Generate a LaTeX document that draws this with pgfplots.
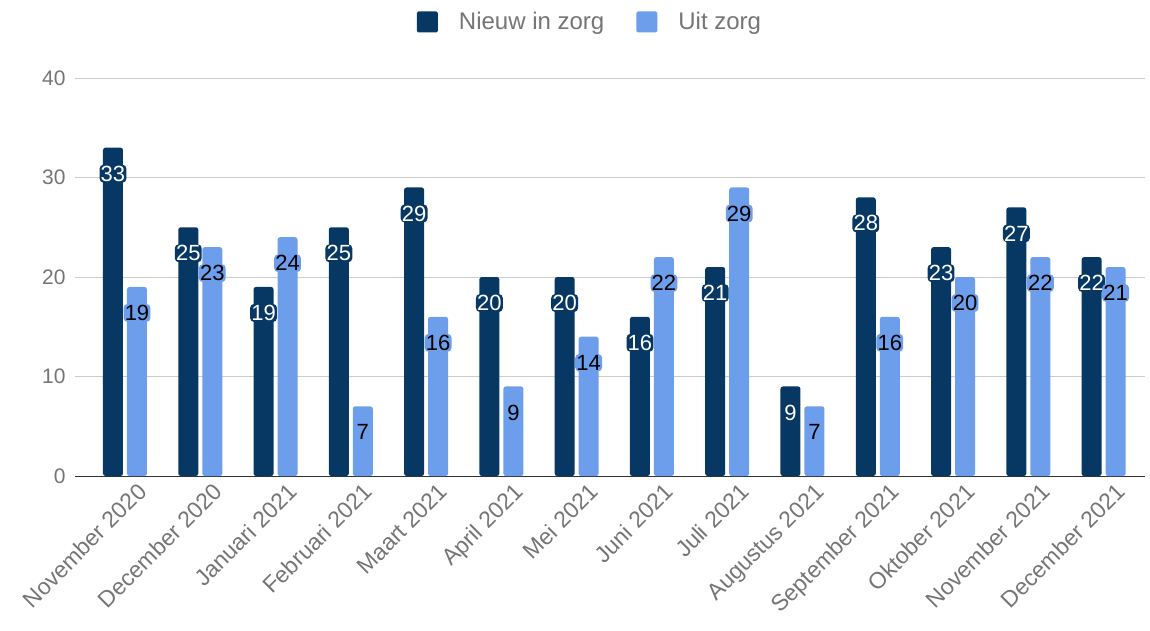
\documentclass[border=0pt]{standalone}
\usepackage{pgfplots}
\pgfplotsset{compat=1.18}
\usepackage{fontspec}
\setmainfont{Liberation Sans}
\definecolor{navy}{HTML}{073763}
\definecolor{lblue}{HTML}{6D9EEB}
\definecolor{txtgray}{HTML}{757575}
\definecolor{gridgray}{HTML}{CCCCCC}
\begin{document}
\begin{tikzpicture}[x=1pt,y=1pt]
\useasboundingbox (0,0) rectangle (1150,630);
\begin{axis}[
  at={(75pt,154pt)}, anchor=south west,
  scale only axis, width=1070pt, height=398pt,
  ymin=0, ymax=40, ytick={0,10,20,30,40},
  xmin=-0.664, xmax=13.55,
  xtick={0,...,13},
  xticklabels={November 2020,December 2020,Januari 2021,Februari 2021,Maart 2021,April 2021,Mei 2021,Juni 2021,Juli 2021,Augustus 2021,September 2021,Oktober 2021,November 2021,December 2021},
  x tick label style={rotate=45, anchor=north east, font=\fontsize{23}{25}\selectfont, text=txtgray, inner sep=0pt, yshift=-12pt, xshift=4pt},
  y tick label style={font=\fontsize{21}{24}\selectfont, text=txtgray, xshift=-6pt},
  /pgf/number format/assume math mode=true,
  axis x line*=bottom, axis y line*=left,
  y axis line style={draw=none},
  x axis line style={draw=black!80, line width=1pt},
  major tick length=0pt,
  ymajorgrids, grid style={gridgray, line width=0.9pt},
  ybar, bar width=20pt,
  legend style={at={(0.5,1)}, yshift=56pt, xshift=-20pt, anchor=center, draw=none, legend columns=2, font=\fontsize{24}{26}\selectfont, text=txtgray,
    /tikz/every odd column/.append style={column sep=19pt},
    /tikz/every even column/.append style={column sep=30pt}},
  legend image code/.code={\fill[#1, rounded corners=1.5pt] (0pt,-10.5pt) rectangle (21pt,10.5pt);},
  nodes near coords,
  every node near coord/.append style={anchor=center, yshift=-26pt, font=\fontsize{22}{24}\selectfont, rounded corners=4pt, inner sep=1.2pt},
  clip=false,
]
\addplot+[bar shift=-12pt, fill=navy, draw=none, rounded corners=2.5pt,
  every node near coord/.append style={fill=navy, text=white}]
  coordinates {(0,33) (1,25) (2,19) (3,25) (4,29) (5,20) (6,20) (7,16) (8,21) (9,9) (10,28) (11,23) (12,27) (13,22)};
\addplot+[bar shift=12pt, fill=lblue, draw=none, rounded corners=2.5pt,
  every node near coord/.append style={fill=lblue, text=black}]
  coordinates {(0,19) (1,23) (2,24) (3,7) (4,16) (5,9) (6,14) (7,22) (8,29) (9,7) (10,16) (11,20) (12,22) (13,21)};
\legend{Nieuw in zorg,Uit zorg}
\end{axis}
\end{tikzpicture}
\end{document}
